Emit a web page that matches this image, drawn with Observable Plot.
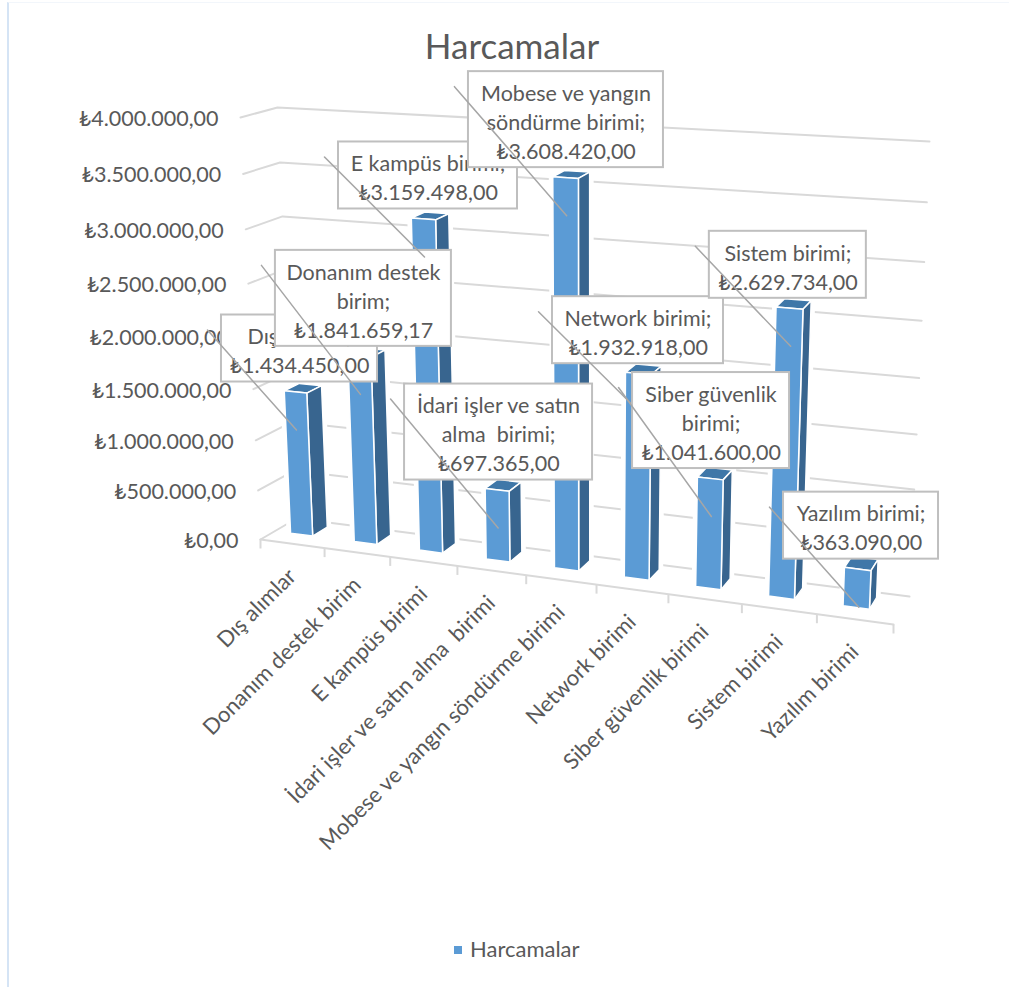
<!DOCTYPE html>
<html lang="tr">
<head>
<meta charset="utf-8">
<title>Harcamalar</title>
<script src="https://cdn.jsdelivr.net/npm/d3@7"></script>
<script src="https://cdn.jsdelivr.net/npm/@observablehq/plot@0.6"></script>
<style>
  html, body { margin: 0; padding: 0; background: #fff; overflow: hidden; }
  #page { position: relative; width: 1009px; height: 987px; font-family: Lato, "DejaVu Sans", sans-serif; color: #595959; }
  #frame { position: absolute; left: 7px; top: 2px; bottom: 0; right: 0; border-left: 2px solid #d5e4f5; border-top: 1px solid #f2f6fb; pointer-events: none; }
  #title { height: 62px; box-sizing: border-box; padding-top: 27px; padding-left: 15px; text-align: center; font-size: 35px; line-height: 36px; }
  #chart { height: 870px; }
  #chart svg { display: block; }
  #legend { position: relative; height: 55px; font-size: 22px; }
  #legend i { position: absolute; left: 454px; top: 14px; width: 8px; height: 8px; background: #5b9bd5; }
  #legend span { position: absolute; left: 470px; top: 4px; line-height: 26px; }
</style>
</head>
<body>
<div id="page">
  <div id="frame"></div>
  <div id="title">Harcamalar</div>
  <div id="chart"></div>
  <div id="legend"><i></i><span>Harcamalar</span></div>
</div>
<script>
// ---------- data ----------
const categories = ["Dış alımlar", "Donanım destek birim", "E kampüs birimi", "İdari işler ve satın alma  birimi",
  "Mobese ve yangın söndürme birimi", "Network birimi", "Siber güvenlik birimi", "Sistem birimi", "Yazılım birimi"];
const values = [1434450, 1841659.17, 3159498, 697365, 3608420, 1932918, 1041600, 2629734, 363090];
const valueTicks = [0, 500000, 1000000, 1500000, 2000000, 2500000, 3000000, 3500000, 4000000];
const calloutNames = ["Dış alımlar;", "Donanım destek\nbirim;", "E kampüs birimi;", "İdari işler ve satın\nalma  birimi;",
  "Mobese ve yangın\nsöndürme birimi;", "Network birimi;", "Siber güvenlik\nbirimi;", "Sistem birimi;", "Yazılım birimi;"];
const calloutAmounts = ["₺1.434.450,00", "₺1.841.659,17", "₺3.159.498,00", "₺697.365,00", "₺3.608.420,00",
  "₺1.932.918,00", "₺1.041.600,00", "₺2.629.734,00", "₺363.090,00"];

// ---------- callout layout, relative to the top of each bar ----------
const calloutWidths = [156, 176, 179, 188, 195, 171, 157, 157, 155];
const calloutShift = [3, 3, 3.5, 0.4, -0.7, -1.3, -0.3, -2.8, 2.2];

// ---------- 3D view of the chart box ----------
const corners = {
  fl0: [260, 539], fr0: [893, 624], bl0: [296, 518], br0: [909, 596],
  fl1: [240, 117], fr1: [913, 159], bl1: [277, 107], br1: [929, 141]
};
const mix = (a, b, k) => [a[0] + (b[0] - a[0]) * k, a[1] + (b[1] - a[1]) * k];
const catScale = d3.scaleLinear([0, categories.length], [0, 1]);
const valScale = d3.scaleLinear([0, 4000000], [0, 1]);
// c: category position, v: value, d: depth (0 front, 1 back wall)
function project(c, v, d) {
  const u0 = catScale(c), u = u0 * (0.9 + 0.1 * u0);
  const t0 = valScale(v), t = t0 * (0.92 + 0.08 * t0);
  const bottom = mix(mix(corners.fl0, corners.fr0, u), mix(corners.bl0, corners.br0, u), d);
  const top = mix(mix(corners.fl1, corners.fr1, u), mix(corners.bl1, corners.br1, u), d);
  const [x, y] = mix(bottom, top, t);
  return {x, y};
}

const barFrom = 0.25, barTo = 0.6, barNear = 0.4, barFar = 0.82, barMid = 0.44;
const tag = (pts, id) => pts.map(p => ({...p, id}));

const fronts = [], sides = [], tops = [];
values.forEach((v, i) => {
  const a = i + barFrom, b = i + barTo;
  const poly = (list) => { const p = list.map(q => project(...q)); p.push(p[0]); return tag(p, i); };
  fronts.push(...poly([[a, 0, barNear], [b, 0, barNear], [b, v, barNear], [a, v, barNear]]));
  sides.push(...poly([[b, 0, barNear], [b, 0, barFar], [b, v, barFar], [b, v, barNear]]));
  tops.push(...poly([[a, v, barNear], [b, v, barNear], [b, v, barFar], [a, v, barFar]]));
});

const n = categories.length;
const grid = valueTicks.flatMap((v, i) => tag([project(0, v, 0), project(0, v, 1), project(n, v, 1)], i));
const floorFront = tag([project(0, 0, 0), project(n, 0, 0)], 0);
const ticks = d3.range(n + 1).map(c => project(c, 0, 0));
const catLabels = categories.map((name, i) => ({...project(i + 0.5, 0, 0), name}));
const valueLabels = valueTicks.map(v => ({...project(0, v, 0),
  label: "₺" + d3.format(",.2f")(v).replace(/,/g, "#").replace(".", ",").replace(/#/g, ".")}));

const ink = "#595959", gridColor = "#d9d9d9";
const sceneTop = 62, sceneH = 870;

const fs = 21.5, lh = 29;
const calloutMarks = values.flatMap((v, i) => {
  const tip = project(i + barMid, v, barNear);
  const text = calloutNames[i] + "\n" + calloutAmounts[i];
  const lines = text.split("\n").length;
  const w = calloutWidths[i], h = lines === 2 ? 67 : 96;
  const cx = tip.x + calloutShift[i], bottom = tip.y - 10, top = bottom - h;
  const box = {x1: cx - w / 2, x2: cx + w / 2, y1: top, y2: bottom};
  const leader = [{x: box.x1 - 14, y: top + 15}, {x: tip.x, y: tip.y + 38}];
  return [
    Plot.rect([box], {x1: "x1", x2: "x2", y1: "y1", y2: "y2", fill: "white", stroke: "#bfbfbf", strokeWidth: 2}),
    Plot.text([{x: cx, y: (top + bottom) / 2 + 1, text}], {x: "x", y: "y", text: "text", fill: ink,
      fontSize: fs, lineHeight: lh / fs, textAnchor: "middle", lineAnchor: "middle"}),
    Plot.line(leader, {x: "x", y: "y", stroke: "#a6a6a6", strokeWidth: 1.5})
  ];
});

const chart = Plot.plot({
  width: 1009, height: sceneH, margin: 0,
  x: {domain: [0, 1009], range: [0, 1009], axis: null},
  y: {domain: [sceneTop + sceneH, sceneTop], range: [sceneH, 0], axis: null},
  style: {fontFamily: 'Lato, "DejaVu Sans", sans-serif', background: "white", overflow: "visible"},
  marks: [
    Plot.line(grid, {x: "x", y: "y", z: "id", stroke: gridColor, strokeWidth: 2}),
    Plot.line(floorFront, {x: "x", y: "y", stroke: gridColor, strokeWidth: 2}),
    Plot.link(ticks, {x1: "x", x2: "x", y1: "y", y2: d => d.y + 9, stroke: gridColor, strokeWidth: 2}),
    Plot.text(valueLabels, {x: "x", y: "y", text: "label", dx: -22, dy: 1.5, fill: ink, fontSize: fs, textAnchor: "end", lineAnchor: "middle"}),
    Plot.text(catLabels, {x: "x", y: "y", text: "name", dx: 0, dy: 29, rotate: -45, fill: ink, fontSize: 22, textAnchor: "end", lineAnchor: "middle"}),
    // white halo that interrupts the gridlines around every bar
    Plot.line(sides, {x: "x", y: "y", z: "id", fill: "white", stroke: "white", strokeWidth: 8}),
    Plot.line(fronts, {x: "x", y: "y", z: "id", fill: "white", stroke: "white", strokeWidth: 8}),
    Plot.line(tops, {x: "x", y: "y", z: "id", fill: "#3f77a8", stroke: "white", strokeWidth: 1.5}),
    Plot.line(sides, {x: "x", y: "y", z: "id", fill: "#38658f", stroke: "white", strokeWidth: 1.5}),
    Plot.line(fronts, {x: "x", y: "y", z: "id", fill: "#5b9bd5", stroke: "white", strokeWidth: 1.5}),
    ...calloutMarks
  ]
});
document.getElementById("chart").append(chart);
</script>
</body>
</html>
